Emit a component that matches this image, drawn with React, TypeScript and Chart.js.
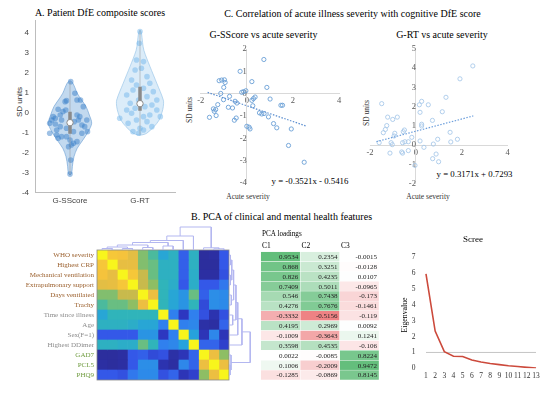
import React, { useEffect, useRef } from "react";
import { Chart, registerables } from "chart.js";
Chart.register(...registerables);

const SERIF = "'Liberation Serif', 'Times New Roman', serif";
const SANS = "'Liberation Sans', Arial, sans-serif";

// ---------------- Panel A: violins ----------------
const violinCategories = ["G-SScore", "G-RT"];
const violinYTicks = [-4, -3, -2, -1, 0, 1, 2, 3, 4];
const sscoreOutlineY = [1.6, 1.5, 1.25, 0.97, 0.63, 0.3, -0.12, -0.53, -0.95, -1.37, -1.78, -2.2, -2.7, -3.03, -3.12];
const sscoreDensity = [0, 0.11, 0.21, 0.31, 0.5, 0.69, 0.83, 0.93, 0.78, 0.55, 0.31, 0.17, 0.1, 0.07, 0];
const rtOutlineY = [4.13, 4.0, 3.5, 3.1, 2.3, 1.47, 0.63, 0.3, 0, -0.37, -0.7, -1.03, -1.1, -1.13];
const rtDensity = [0, 0.06, 0.11, 0.17, 0.43, 0.72, 1.0, 1.0, 0.94, 0.82, 0.6, 0.29, 0.13, 0];
const sscoreJitter = [0.01, 0.07, -0.07, -0.05, 0.1, 0.15, 0.19, -0.1, -0.17, -0.24, -0.21, -0.12, 0.1, 0.14, 0.24, 0.21, 0.17, -0.14, -0.19, -0.29, -0.26, 0.05, -0.05, -0.12, -0.19, 0, 0.05, 0.02, 0.1, 0.17, 0.25, -0.29, -0.17, -0.05, -0.02, 0.01, 0, -0.06, 0.06, 0.12, -0.14, -0.21];
const sscoreValues = [1.55, 0.97, 0.55, 0.6, 0.63, 0.63, 0.3, 0.05, 0.17, -0.2, -0.28, -0.37, -0.12, -0.2, -0.37, -0.7, -0.62, -0.7, -0.87, -0.53, -0.37, -0.95, -0.78, -1.2, -1.12, -1.37, -1.53, -1.62, -1.45, -1.03, -0.95, -1.03, -1.28, -1.2, -1.7, -2.37, -3.07, 0.13, -0.45, -0.37, -0.12, -0.57];
const rtJitter = [0, -0.01, -0.05, 0.05, -0.07, 0.02, 0.1, -0.12, 0.14, -0.05, 0.05, -0.1, 0.19, -0.19, 0.1, -0.02, 0.24, -0.14, 0.17, 0.07, -0.07, -0.19, 0.24, -0.12, 0.14, 0.05, -0.29, 0.29, -0.05, 0.1, -0.17, 0.17, 0, -0.1, -0.02, 0.05];
const rtValues = [4.05, 3.47, 2.63, 2.55, 2.13, 2.22, 1.8, 1.63, 1.47, 1.38, 1.22, 1.13, 1.05, 0.88, 0.8, 0.63, 0.63, 0.47, 0.38, 0.3, 0.22, 0.13, 0.13, -0.03, -0.12, -0.2, -0.28, -0.2, -0.37, -0.45, -0.53, -0.7, -0.78, -0.95, -1.03, -0.87];
const sscoreBox = { q1: -1.05, median: -0.5, q3: 0.05, min: -3.1, max: 1.55 };
const rtBox = { q1: 0.1, median: 0.45, q3: 1.3, min: -1.1, max: 4.1 };

// ---------------- Panel C: scatters ----------------
const sevSScoreX = [0.74, -0.29, -1.2, -1.09, -0.97, -0.94, 0.22, -1.0, 0.87, -0.04, -0.14, -0.22, -1.13, -0.75, 0.29, 0.22, 0.36, 1.01, -1.01, -0.51, -0.43, -1.26, 0.26, 1.48, 1.55, -0.8, -0.62, -1.45, -1.35, -1.41, 0.55, 0.65, 0.75, 0.94, -1.33, -1.62, -0.46, -0.54, 1.16, 0, 0.1, 0.14, 1.3, 1.93, 1.81, 2.49];
const sevSScoreY = [1.53, 1.0, 0.58, 0.61, 0.62, 0.5, 0.54, 0.28, 0.28, 0.13, 0.09, 0.06, 0.01, -0.12, -0.22, -0.3, -0.15, -0.24, -0.27, -0.34, -0.42, -0.49, -0.54, -0.52, -0.52, -0.61, -0.64, -0.68, -0.71, -0.79, -0.86, -0.91, -0.89, -1.04, -0.98, -1.06, -1.09, -1.19, -1.34, -1.46, -1.5, -1.58, -1.53, -1.58, -2.32, -3.07];
const sscoreFit = { slope: -0.3521, intercept: -0.5416, from: -1.7, to: 2.55 };
const sevRtX = [2.48, 1.92, 1.31, 0.25, 0.15, 0.54, -1.49, 0.18, 1.15, -1.23, -0.81, -1.01, 0.72, 0.25, 0.25, -1.27, -1.33, -1.42, -0.5, -0.55, -0.92, -0.95, -0.18, 0.95, 1.49, 1.81, 1.52, 0.18, -1.6, -1.08, -1.03, -0.58, -0.48, -0.33, 0.35, 0.76, -1.13, -0.62, -0.58, -0.33, 0.88, 0.73, 0.99, -0.04];
const sevRtY = [4.12, 3.45, 2.49, 2.28, 2.1, 2.1, 2.16, 1.71, 1.74, 1.46, 1.46, 1.34, 1.29, 1.09, 1.0, 1.02, 0.82, 0.65, 0.79, 0.7, 0.62, 0.48, 0.41, 0.31, 0.67, 0.31, 0.17, 0.22, 0.13, 0.13, 0.03, 0.13, 0.18, 0.18, -0.11, 0.06, -0.41, -0.35, -0.41, -0.28, -0.46, -0.7, -0.86, -1.05];
const rtFit = { slope: 0.3171, intercept: 0.7293, from: -1.72, to: 2.5 };

// ---------------- Panel B: heatmap ----------------
const featureLabels = ["WHO severity", "Highest CRP", "Mechanical ventilation", "Extrapulmonary support", "Days ventilated", "Trachy", "Time since illness", "Age", "Sex(F=1)", "Highest DDimer", "GAD7", "PCL5", "PHQ9"];
const featureGroups = ["clinical", "clinical", "clinical", "clinical", "clinical", "clinical", "other", "other", "other", "other", "mental", "mental", "mental"];
// correlation on the colour scale (0 = lowest, 1 = diagonal)
const corrMatrix = [
  [1.00, 0.88, 0.87, 0.82, 0.66, 0.57, 0.44, 0.50, 0.24, 0.50, 0.04, 0.05, 0.22],
  [0.88, 1.00, 0.83, 0.83, 0.66, 0.62, 0.50, 0.50, 0.24, 0.50, 0.04, 0.04, 0.22],
  [0.87, 0.83, 1.00, 0.88, 0.76, 0.62, 0.50, 0.50, 0.24, 0.48, 0.05, 0.05, 0.20],
  [0.82, 0.83, 0.88, 1.00, 0.76, 0.68, 0.52, 0.48, 0.22, 0.48, 0.22, 0.22, 0.30],
  [0.66, 0.66, 0.76, 0.76, 1.00, 0.84, 0.52, 0.44, 0.38, 0.62, 0.24, 0.36, 0.35],
  [0.57, 0.62, 0.62, 0.68, 0.84, 1.00, 0.52, 0.44, 0.38, 0.52, 0.18, 0.36, 0.35],
  [0.44, 0.52, 0.52, 0.52, 0.52, 0.52, 1.00, 0.32, 0.12, 0.32, 0.20, 0.08, 0.20],
  [0.50, 0.50, 0.50, 0.48, 0.44, 0.44, 0.32, 1.00, 0.32, 0.34, 0.06, 0.05, 0.25],
  [0.22, 0.22, 0.22, 0.22, 0.38, 0.38, 0.12, 0.32, 1.00, 0.42, 0.10, 0.34, 0.10],
  [0.50, 0.50, 0.48, 0.48, 0.62, 0.52, 0.32, 0.34, 0.42, 1.00, 0.25, 0.25, 0.15],
  [0.04, 0.04, 0.05, 0.22, 0.24, 0.18, 0.20, 0.06, 0.10, 0.25, 1.00, 0.84, 0.68],
  [0.05, 0.04, 0.05, 0.22, 0.36, 0.36, 0.08, 0.05, 0.34, 0.25, 0.84, 1.00, 0.84],
  [0.22, 0.22, 0.20, 0.30, 0.35, 0.35, 0.20, 0.25, 0.10, 0.15, 0.68, 0.84, 1.00],
];
// dendrogram merges: [nodeA, nodeB, height]; leaves 1..13, new nodes 14..
const dendroMerges: [number, number, number][] = [
  [1, 2, 1.5], [3, 4, 1.5], [14, 15, 3], [5, 6, 2.5], [16, 17, 5], [7, 8, 4],
  [18, 19, 7.5], [20, 9, 9.5], [21, 10, 14], [12, 13, 1.2], [11, 23, 2.2], [22, 24, 23],
];

// ---------------- Panel B: PCA loadings ----------------
const loadingHeaders = ["C1", "C2", "C3"];
const loadingC1 = [0.9534, 0.868, 0.826, 0.7409, 0.546, 0.4276, -0.3332, 0.4195, -0.1009, 0.3598, 0.0022, 0.1006, -0.1285];
const loadingC2 = [0.2354, 0.3251, 0.4235, 0.5011, 0.7438, 0.7676, -0.5156, 0.2969, -0.3643, 0.4535, -0.0085, -0.2009, -0.0869];
const loadingC3 = [-0.0015, -0.0128, 0.0107, -0.0965, -0.173, -0.1461, -0.119, 0.0092, 0.1241, -0.106, 0.8224, 0.9472, 0.8145];

// ---------------- Scree ----------------
const screeComponents = [1, 2, 3, 4, 5, 6, 7, 8, 9, 10, 11, 12, 13];
const screeEigen = [5.95, 2.35, 1.05, 0.76, 0.74, 0.52, 0.4, 0.3, 0.23, 0.16, 0.11, 0.06, 0.01];
const screeYTicks = [0, 1, 2, 3, 4, 5, 6, 7];
const kaiserLevel = 1;

// ---------------- helpers ----------------
const VIOLIN_HALF = 0.333;
const parulaStops: [number, number[]][] = [
  [0.0, [43, 42, 140]], [0.12, [45, 55, 192]], [0.22, [52, 88, 232]], [0.32, [48, 128, 238]],
  [0.42, [38, 162, 220]], [0.52, [48, 180, 186]], [0.6, [92, 190, 140]], [0.68, [142, 190, 100]],
  [0.76, [200, 186, 76]], [0.86, [245, 192, 62]], [0.93, [248, 216, 45]], [1.0, [248, 245, 28]],
];
function parula(v: number) {
  for (let i = 1; i < parulaStops.length; i++) {
    const [p1, c1] = parulaStops[i];
    const [p0, c0] = parulaStops[i - 1];
    if (v <= p1) {
      const t = (v - p0) / (p1 - p0);
      const c = c0.map((a, k) => Math.round(a + (c1[k] - a) * t));
      return `rgb(${c[0]},${c[1]},${c[2]})`;
    }
  }
  return "rgb(248,245,28)";
}
function loadingColor(v: number) {
  const white = [255, 255, 255];
  const target = v >= 0 ? [99, 190, 123] : [238, 130, 132];
  const t = v >= 0 ? Math.min(1, v / 0.9534) : Math.min(1, -v / 0.5156);
  const c = white.map((a, k) => Math.round(a + (target[k] - a) * t));
  return `rgb(${c[0]},${c[1]},${c[2]})`;
}
const groupColor: Record<string, string> = { clinical: "#9a5f2c", other: "#8c8c8c", mental: "#6e9b3e" };

const zeroPad = (s: any) => { s.paddingLeft = 0; s.paddingRight = 0; s.paddingTop = 0; s.paddingBottom = 0; };
const fixW = (w: number) => (s: any) => { s.width = w; zeroPad(s); };
const fixH = (h: number) => (s: any) => { s.height = h; zeroPad(s); };
const noPlugins = { legend: { display: false }, tooltip: { enabled: false } };

function violinPolygon(center: number, ys: number[], dens: number[]) {
  const right = ys.map((y, i) => ({ x: center + dens[i] * VIOLIN_HALF, y }));
  const left = ys.map((y, i) => ({ x: center - dens[i] * VIOLIN_HALF, y })).reverse();
  return [...right, ...left];
}

function dendroLinks() {
  const pos: Record<number, number> = {};
  const hgt: Record<number, number> = {};
  for (let i = 1; i <= 13; i++) { pos[i] = i; hgt[i] = 0; }
  const links: { a: number; b: number; ha: number; hb: number; h: number }[] = [];
  dendroMerges.forEach(([a, b, h], k) => {
    const id = 14 + k;
    links.push({ a: pos[a], b: pos[b], ha: hgt[a], hb: hgt[b], h });
    pos[id] = (pos[a] + pos[b]) / 2;
    hgt[id] = h;
  });
  return links;
}

function ChartCanvas({ x, y, w, h, make }: { x: number; y: number; w: number; h: number; make: () => any }) {
  const ref = useRef<HTMLCanvasElement>(null);
  useEffect(() => {
    const chart = new Chart(ref.current as HTMLCanvasElement, make());
    return () => chart.destroy();
  }, []);
  return <canvas ref={ref} width={w} height={h} style={{ position: "absolute", left: x, top: y, width: w, height: h }} />;
}

function Label({ x, y, text, size, color = "#000", font = SERIF, rotate = false, align = "center" }:
  { x: number; y: number; text: string; size: number; color?: string; font?: string; rotate?: boolean; align?: string }) {
  const tx = align === "center" ? "-50%" : align === "right" ? "-100%" : "0";
  return (
    <div style={{ position: "absolute", left: x, top: y, transform: `translate(${tx}, -50%)${rotate ? " rotate(-90deg)" : ""}`,
      fontFamily: font, fontSize: size, color, whiteSpace: "nowrap", lineHeight: 1 }}>{text}</div>
  );
}

// ---------------- chart configs ----------------
function violinConfig() {
  const makeBox = (c: number, b: any) => [
    { data: [{ x: c, y: b.median }], pointRadius: 3.2, pointBackgroundColor: "#ffffff", pointBorderColor: "#8a8a8a", pointBorderWidth: 1 },
    { data: [{ x: c, y: b.q1 }, { x: c, y: b.q3 }], showLine: true, borderColor: "#8a8a8a", borderWidth: 3.5, pointRadius: 0 },
    { data: [{ x: c, y: b.min }, { x: c, y: b.max }], showLine: true, borderColor: "rgba(140,140,140,0.6)", borderWidth: 0.8, pointRadius: 0 },
  ];
  return {
    type: "scatter",
    data: {
      datasets: [
        ...makeBox(1, sscoreBox),
        ...makeBox(2, rtBox),
        { data: sscoreValues.map((v, i) => ({ x: 1 + sscoreJitter[i], y: v })), pointRadius: 2.8, pointBackgroundColor: "rgba(55,125,200,0.48)", pointBorderWidth: 0 },
        { data: rtValues.map((v, i) => ({ x: 2 + rtJitter[i], y: v })), pointRadius: 2.8, pointBackgroundColor: "rgba(110,180,235,0.48)", pointBorderWidth: 0 },
        { data: violinPolygon(1, sscoreOutlineY, sscoreDensity), showLine: true, fill: "shape", tension: 0.3, backgroundColor: "rgba(110,165,218,0.42)", borderColor: "rgba(100,155,210,0.75)", borderWidth: 0.8, pointRadius: 0 },
        { data: violinPolygon(2, rtOutlineY, rtDensity), showLine: true, fill: "shape", tension: 0.3, backgroundColor: "rgba(160,205,240,0.38)", borderColor: "rgba(150,195,232,0.8)", borderWidth: 0.8, pointRadius: 0 },
      ],
    },
    options: {
      animation: false, responsive: false, plugins: noPlugins,
      layout: { padding: { top: 10, right: 10, left: 0, bottom: 0 } },
      scales: {
        x: {
          type: "linear", min: 0.5, max: 2.5,
          afterBuildTicks: (s: any) => { s.ticks = [{ value: 1 }, { value: 2 }]; },
          afterFit: fixH(22.3),
          ticks: { callback: (v: any) => violinCategories[Math.round(v) - 1], font: { family: SANS, size: 8 }, color: "#444", padding: 3, maxRotation: 0 },
          grid: { display: false, drawTicks: false }, border: { color: "#bdbdbd" },
        },
        y: {
          min: -4, max: 4.63,
          afterBuildTicks: (s: any) => { s.ticks = violinYTicks.map((v) => ({ value: v })); },
          afterFit: fixW(35),
          ticks: { font: { family: SANS, size: 8 }, color: "#444", padding: 6 },
          grid: { display: false, drawTicks: false }, border: { color: "#bdbdbd" },
        },
      },
    },
  };
}

function scatterConfig(xs: number[], ys: number[], fit: any, yMin: number, yMax: number, pad: any, dotColor: string, fitColor: string) {
  const tickFont = { family: SERIF, size: 8.5 };
  return {
    type: "scatter",
    data: {
      datasets: [
        { data: [{ x: fit.from, y: fit.slope * fit.from + fit.intercept }, { x: fit.to, y: fit.slope * fit.to + fit.intercept }],
          showLine: true, borderColor: fitColor, borderWidth: 1.2, borderDash: [1.5, 1.5], pointRadius: 0 },
        { data: xs.map((x, i) => ({ x, y: ys[i] })), pointRadius: 2.1, pointBackgroundColor: "rgba(255,255,255,0)", pointBorderColor: dotColor, pointBorderWidth: 0.9 },
      ],
    },
    options: {
      animation: false, responsive: false, plugins: noPlugins, layout: { padding: pad },
      scales: {
        x: { type: "linear", min: -2, max: 4, position: { y: 0 }, afterFit: zeroPad,
          ticks: { stepSize: 2, font: tickFont, color: "#595959", padding: 2 },
          grid: { display: false, drawTicks: false }, border: { color: "#d9d9d9", width: 1 } },
        y: { type: "linear", min: yMin, max: yMax, position: { x: 0 }, afterFit: zeroPad,
          ticks: { stepSize: 1, font: tickFont, color: "#595959", padding: 3 },
          grid: { display: false, drawTicks: false }, border: { color: "#d9d9d9", width: 1 } },
      },
    },
  };
}

const framePlugin = {
  id: "frame",
  afterDatasetsDraw(chart: any) {
    const { left, top, width, height } = chart.chartArea;
    const ctx = chart.ctx;
    ctx.save(); ctx.strokeStyle = "#8a8a8a"; ctx.lineWidth = 0.8; ctx.strokeRect(left, top, width, height); ctx.restore();
  },
};

function heatmapConfig() {
  return {
    type: "bar",
    data: {
      labels: featureLabels,
      datasets: featureLabels.map((_, j) => ({
        data: featureLabels.map(() => 1),
        backgroundColor: featureLabels.map((__, i) => parula(corrMatrix[i][j])),
        barPercentage: 1, categoryPercentage: 1, borderWidth: 0,
      })),
    },
    plugins: [framePlugin],
    options: {
      animation: false, responsive: false, indexAxis: "y", plugins: noPlugins,
      layout: { padding: { top: 10, right: 11, bottom: 10, left: 0 } },
      scales: {
        x: { stacked: true, min: 0, max: 13, display: false },
        y: { stacked: true, afterFit: fixW(97),
          ticks: { font: { family: SERIF, size: 7 }, padding: 3, autoSkip: false,
            color: (c: any) => groupColor[featureGroups[c.index]] },
          grid: { display: false, drawTicks: false }, border: { display: false } },
      },
    },
  };
}

function dendroConfig(vertical: boolean) {
  const links = dendroLinks();
  const datasets = links.map((l) => {
    const pts = [
      { p: l.a, h: l.ha }, { p: l.a, h: l.h }, { p: l.b, h: l.h }, { p: l.b, h: l.hb },
    ];
    return {
      data: pts.map((q) => (vertical ? { x: q.h, y: q.p } : { x: q.p, y: q.h })),
      showLine: true, borderColor: "#b3b7f0", borderWidth: 1, pointRadius: 0, tension: 0,
    };
  });
  const posScale = { type: "linear", min: 0.5, max: 13.5, display: false };
  const hScale = { type: "linear", min: 0, max: 26, display: false };
  return {
    type: "scatter",
    data: { datasets },
    options: {
      animation: false, responsive: false, plugins: noPlugins, layout: { padding: 0 },
      scales: vertical ? { x: hScale, y: { ...posScale, reverse: true } } : { x: posScale, y: hScale },
    },
  };
}

const loadingCols = [loadingC1, loadingC2, loadingC3];
const tableTextPlugin = {
  id: "tableText",
  afterDatasetsDraw(chart: any) {
    const ctx = chart.ctx;
    ctx.save();
    ctx.font = `7px ${SERIF}`; ctx.fillStyle = "#222"; ctx.textAlign = "right"; ctx.textBaseline = "middle";
    chart.data.datasets.forEach((_: any, di: number) => {
      const meta = chart.getDatasetMeta(di);
      meta.data.forEach((el: any, i: number) => { ctx.fillText(String(loadingCols[di][i]), el.x - 2, el.y + 0.5); });
    });
    ctx.restore();
  },
};

function tableConfig() {
  return {
    type: "bar",
    data: {
      labels: featureLabels,
      datasets: loadingCols.map((col) => ({
        data: col.map(() => 1),
        backgroundColor: col.map((v) => loadingColor(v)),
        barPercentage: 1, categoryPercentage: 1, borderWidth: 0.5, borderColor: "#ffffff", borderSkipped: false,
      })),
    },
    plugins: [tableTextPlugin],
    options: {
      animation: false, responsive: false, indexAxis: "y", plugins: noPlugins,
      layout: { padding: { top: 0.7, left: 0.7, right: 1, bottom: 1 } },
      scales: {
        x: { stacked: true, min: 0, max: 3, display: false },
        y: { stacked: true, display: false },
      },
    },
  };
}

function screeConfig() {
  const tickFont = { family: SERIF, size: 7.5 };
  return {
    type: "scatter",
    data: {
      datasets: [
        { data: screeComponents.map((c, i) => ({ x: c, y: screeEigen[i] })), showLine: true, borderColor: "#cc4a3c", borderWidth: 1.6, pointRadius: 0, tension: 0 },
        { data: [{ x: screeComponents[0], y: kaiserLevel }, { x: screeComponents[screeComponents.length - 1], y: kaiserLevel }], showLine: true, borderColor: "#c4c4c4", borderWidth: 1, pointRadius: 0 },
      ],
    },
    options: {
      animation: false, responsive: false, plugins: noPlugins,
      layout: { padding: { top: 7.3, right: 13.4, left: 0, bottom: 0 } },
      scales: {
        x: { type: "linear", min: 0.5, max: 13.5, afterFit: fixH(21.7),
          afterBuildTicks: (s: any) => { s.ticks = screeComponents.map((v) => ({ value: v })); },
          ticks: { font: tickFont, color: "#333", padding: 3, autoSkip: false, maxRotation: 0 },
          grid: { display: false, drawTicks: false }, border: { display: false } },
        y: { min: 0, max: 7, afterFit: fixW(26.4),
          afterBuildTicks: (s: any) => { s.ticks = screeYTicks.map((v) => ({ value: v })); },
          ticks: { font: tickFont, color: "#333", padding: 6 },
          grid: { display: false, drawTicks: false }, border: { display: false } },
      },
    },
  };
}

export default function App() {
  return (
    <div style={{ position: "absolute", left: 0, top: 0, width: 554, height: 400, background: "#fff", overflow: "hidden" }}>
      <Label x={100} y={13} text="A. Patient DfE composite scores" size={10} />
      <Label x={20} y={102} text="SD units" size={8} font={SANS} color="#333" rotate />
      <ChartCanvas x={0} y={10} w={185} h={205} make={violinConfig} />

      <Label x={352.5} y={13.5} text="C. Correlation of acute illness severity with cognitive DfE score" size={10} />
      <Label x={263.5} y={35} text="G-SScore vs acute severity" size={10} />
      <Label x={442} y={35} text="G-RT vs acute severity" size={10} />
      <Label x={190} y={110} text="SD units" size={7.5} color="#333" rotate />
      <Label x={367} y={113} text="SD units" size={7.5} color="#333" rotate />
      <Label x={248} y={197} text="Acute severity" size={7.5} color="#333" />
      <Label x={428} y={197} text="Acute severity" size={7.5} color="#333" />
      <Label x={310} y={181} text="y = -0.3521x - 0.5416" size={8.8} />
      <Label x={474.5} y={173.5} text="y = 0.3171x + 0.7293" size={8.8} />
      <ChartCanvas x={190} y={40} w={160} h={150}
        make={() => scatterConfig(sevSScoreX, sevSScoreY, sscoreFit, -4, 2, { left: 10.7, top: 9, right: 11, bottom: 7 }, "#6a9fd6", "#5d8fd0")} />
      <ChartCanvas x={355} y={40} w={165} h={150}
        make={() => scatterConfig(sevRtX, sevRtY, rtFit, -2, 5, { left: 15, top: 9, right: 12.3, bottom: 6.3 }, "#a9c9ea", "#6d9fdc")} />

      <Label x={281.5} y={216.5} text="B. PCA of clinical and mental health features" size={10} />
      <ChartCanvas x={0} y={240} w={240} h={150} make={heatmapConfig} />
      <ChartCanvas x={97} y={224} w={132} h={26} make={() => dendroConfig(false)} />
      <ChartCanvas x={229} y={250} w={24} h={130} make={() => dendroConfig(true)} />

      <Label x={262} y={234.5} text="PCA loadings" size={7.2} align="left" />
      {loadingHeaders.map((hd, i) => (
        <Label key={hd} x={262 + i * 39.5} y={246} text={hd} size={7.5} align="left" />
      ))}
      <ChartCanvas x={260} y={251} w={120} h={130} make={tableConfig} />

      <Label x={473} y={239} text="Scree" size={9} />
      <Label x={405} y={315} text="Eigenvalue" size={7.8} rotate />
      <ChartCanvas x={395} y={250} w={159} h={140} make={screeConfig} />
    </div>
  );
}
